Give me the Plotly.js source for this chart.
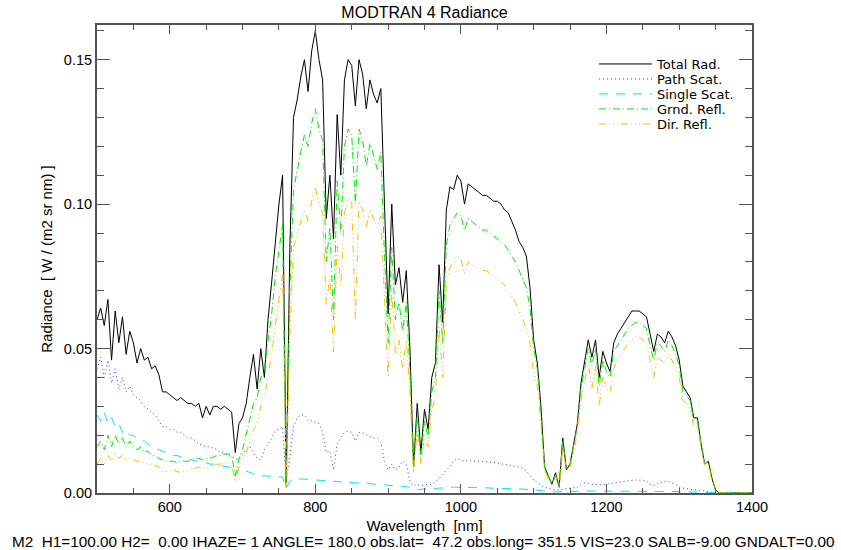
<!DOCTYPE html>
<html>
<head>
<meta charset="utf-8">
<script src="https://cdn.plot.ly/plotly-3.0.1.min.js"></script>
<style>html,body{margin:0;padding:0;background:#fff;}#chart{width:841px;height:550px;}</style>
</head>
<body>
<div id="chart"></div>
<script>
// Wavelength grid [nm]
const wavelength = [
 500,505,510,515,520,525,530,535,540,545,
 550,555,560,565,570,575,580,585,590,595,
 600,605,610,615,620,625,630,635,640,645,
 650,655,660,665,670,675,680,685,690,695,
 700,705,710,715,720,725,730,735,740,745,
 750,755,760,765,770,775,780,785,790,795,
 800,805,810,815,820,825,830,835,840,845,
 850,855,860,865,870,875,880,885,890,895,
 900,905,910,915,920,925,930,935,940,945,
 950,955,960,965,970,975,980,985,990,995,
 1000,1005,1010,1015,1020,1025,1030,1035,1040,1045,
 1050,1055,1060,1065,1070,1075,1080,1085,1090,1095,
 1100,1105,1110,1115,1120,1125,1130,1135,1140,1145,
 1150,1155,1160,1165,1170,1175,1180,1185,1190,1195,
 1200,1205,1210,1215,1220,1225,1230,1235,1240,1245,
 1250,1255,1260,1265,1270,1275,1280,1285,1290,1295,
 1300,1305,1310,1315,1320,1325,1330,1335,1340,1345,
 1350,1355,1360,1365,1370,1375,1380,1385,1390,1395,
 1400];

const totalRad = [
 0.060,0.064,0.058,0.067,0.046,0.063,0.052,0.061,0.048,0.056,
 0.052,0.045,0.050,0.046,0.047,0.043,0.044,0.041,0.035,0.035,
 0.034,0.033,0.032,0.033,0.032,0.031,0.031,0.030,0.031,0.026,
 0.030,0.027,0.030,0.030,0.029,0.030,0.029,0.028,0.014,0.024,
 0.026,0.031,0.040,0.048,0.036,0.050,0.040,0.060,0.073,0.088,
 0.100,0.110,0.003,0.085,0.130,0.136,0.144,0.150,0.139,0.153,
 0.160,0.150,0.143,0.095,0.110,0.088,0.131,0.110,0.143,0.150,
 0.148,0.134,0.150,0.145,0.133,0.143,0.138,0.135,0.140,0.100,
 0.062,0.100,0.072,0.078,0.066,0.077,0.050,0.009,0.031,0.014,
 0.029,0.022,0.040,0.045,0.079,0.059,0.098,0.106,0.105,0.110,
 0.108,0.100,0.107,0.106,0.105,0.104,0.103,0.103,0.102,0.101,
 0.101,0.100,0.098,0.097,0.094,0.091,0.087,0.085,0.082,0.071,
 0.053,0.045,0.030,0.009,0.006,0.003,0.007,0.002,0.019,0.008,
 0.010,0.017,0.024,0.038,0.046,0.053,0.047,0.053,0.040,0.049,
 0.045,0.042,0.052,0.055,0.057,0.059,0.061,0.063,0.063,0.063,
 0.062,0.061,0.055,0.049,0.055,0.054,0.052,0.056,0.054,0.051,
 0.046,0.037,0.035,0.033,0.026,0.026,0.017,0.010,0.011,0.005,
 0.001,0,0,0,0,0,0,0,0,0,
 0];

const pathScat = [
 0.043,0.047,0.040,0.046,0.038,0.043,0.036,0.040,0.035,0.037,
 0.034,0.033,0.032,0.030,0.029,0.028,0.027,0.025,0.023,0.023,
 0.022,0.022,0.021,0.021,0.020,0.019,0.019,0.018,0.017,0.0165,
 0.016,0.016,0.0155,0.015,0.014,0.014,0.013,0.0125,0.012,0.0115,
 0.0135,0.015,0.016,0.014,0.012,0.0115,0.015,0.017,0.019,0.0215,
 0.022,0.023,0.004,0.013,0.023,0.026,0.027,0.027,0.025,0.025,
 0.0245,0.024,0.021,0.014,0.0145,0.008,0.017,0.019,0.021,0.0215,
 0.021,0.018,0.021,0.0207,0.020,0.0195,0.019,0.019,0.0175,0.011,
 0.008,0.010,0.008,0.009,0.011,0.010,0.004,0.0025,0.003,0.0025,
 0.0028,0.003,0.003,0.004,0.005,0.0065,0.008,0.009,0.011,0.012,
 0.0115,0.011,0.0112,0.011,0.011,0.011,0.011,0.0108,0.0107,0.0106,
 0.0104,0.010,0.010,0.0097,0.0095,0.0092,0.009,0.0085,0.0077,0.006,
 0.0045,0.0035,0.0027,0.002,0.0017,0.0012,0.001,0.001,0.0012,0.0015,
 0.0017,0.002,0.002,0.003,0.0035,0.0033,0.003,0.003,0.0028,0.003,
 0.003,0.0033,0.0035,0.0038,0.004,0.0041,0.0042,0.0044,0.0045,0.0045,
 0.0044,0.0042,0.003,0.0025,0.0033,0.0037,0.004,0.004,0.0036,0.003,
 0.002,0.0017,0.0015,0.0012,0.001,0.001,0.0008,0.0006,0.0005,0.0003,
 0.0001,0,0,0,0,0,0,0,0,0,
 0];

const singleScat = [
 0.027,0.025,0.028,0.024,0.026,0.023,0.024,0.021,0.022,0.020,
 0.020,0.019,0.018,0.018,0.017,0.016,0.0155,0.015,0.0145,0.014,
 0.0135,0.013,0.013,0.0125,0.012,0.012,0.0115,0.011,0.011,0.0105,
 0.0105,0.010,0.010,0.0097,0.0095,0.0092,0.009,0.0088,0.006,0.0085,
 0.008,0.0075,0.007,0.0065,0.0062,0.006,0.006,0.006,0.0058,0.0057,
 0.0056,0.0055,0.0015,0.004,0.005,0.005,0.005,0.0048,0.0047,0.0046,
 0.0045,0.0044,0.0043,0.0042,0.004,0.004,0.0039,0.0038,0.0037,0.0037,
 0.0036,0.0035,0.0035,0.0034,0.0033,0.0033,0.0032,0.0031,0.003,0.003,
 0.0029,0.0027,0.0026,0.0025,0.0024,0.0022,0.002,0.0012,0.0012,0.0013,
 0.0014,0.0015,0.0016,0.0017,0.0018,0.0019,0.002,0.002,0.002,0.002,
 0.002,0.002,0.0019,0.0019,0.0019,0.0018,0.0018,0.0018,0.0017,0.0017,
 0.0016,0.0016,0.0016,0.0015,0.0015,0.0014,0.0014,0.0013,0.0013,0.0012,
 0.0012,0.001,0.0008,0.0005,0.0003,0.0003,0.0004,0.0004,0.0005,0.0005,
 0.0006,0.0006,0.0006,0.0007,0.0007,0.0007,0.0007,0.0007,0.0007,0.0007,
 0.0007,0.0007,0.0007,0.0007,0.0007,0.0006,0.0006,0.0006,0.0006,0.0006,
 0.0006,0.0006,0.0006,0.0005,0.0005,0.0005,0.0005,0.0005,0.0005,0.0005,
 0.0005,0.0004,0.0004,0.0004,0.0003,0.0003,0.0002,0.0002,0.0001,0.0001,
 0,0,0,0,0,0,0,0,0,0,
 0];

const grndRefl = [
 0.016,0.018,0.015,0.020,0.016,0.020,0.017,0.019,0.016,0.018,
 0.016,0.015,0.016,0.014,0.0145,0.013,0.013,0.012,0.0115,0.011,
 0.011,0.011,0.0105,0.011,0.011,0.011,0.0115,0.012,0.012,0.0115,
 0.012,0.012,0.0125,0.013,0.013,0.0135,0.0135,0.013,0.006,0.012,
 0.015,0.020,0.026,0.031,0.033,0.040,0.043,0.053,0.062,0.075,
 0.085,0.093,0.002,0.070,0.105,0.112,0.118,0.124,0.120,0.128,
 0.133,0.126,0.122,0.080,0.092,0.060,0.108,0.090,0.120,0.126,
 0.124,0.100,0.126,0.122,0.113,0.121,0.117,0.112,0.118,0.082,
 0.052,0.085,0.060,0.066,0.056,0.066,0.042,0.008,0.027,0.012,
 0.025,0.019,0.035,0.040,0.070,0.052,0.086,0.093,0.095,0.097,
 0.096,0.091,0.095,0.094,0.093,0.092,0.091,0.091,0.090,0.089,
 0.088,0.087,0.086,0.084,0.082,0.080,0.077,0.074,0.071,0.064,
 0.050,0.043,0.028,0.009,0.006,0.003,0.006,0.002,0.018,0.008,
 0.010,0.016,0.023,0.036,0.043,0.050,0.044,0.050,0.037,0.046,
 0.042,0.040,0.049,0.051,0.053,0.055,0.057,0.058,0.059,0.059,
 0.058,0.057,0.051,0.046,0.052,0.051,0.049,0.053,0.051,0.048,
 0.044,0.035,0.034,0.032,0.025,0.025,0.017,0.010,0.011,0.005,
 0.001,0,0,0,0,0,0,0,0,0,
 0];

const dirRefl = [
 0.010,0.012,0.010,0.013,0.011,0.014,0.012,0.013,0.011,0.012,
 0.0115,0.011,0.011,0.0105,0.010,0.010,0.0095,0.009,0.0075,0.0075,
 0.0075,0.008,0.0075,0.007,0.0075,0.008,0.0085,0.0085,0.009,0.0085,
 0.009,0.009,0.0095,0.010,0.010,0.0105,0.0105,0.010,0.004,0.009,
 0.011,0.014,0.018,0.022,0.024,0.030,0.033,0.040,0.048,0.058,
 0.068,0.076,0.002,0.055,0.085,0.090,0.094,0.098,0.094,0.101,
 0.106,0.100,0.097,0.065,0.075,0.049,0.086,0.072,0.097,0.102,
 0.101,0.060,0.101,0.098,0.092,0.098,0.095,0.092,0.096,0.068,
 0.040,0.070,0.048,0.053,0.043,0.053,0.035,0.007,0.022,0.010,
 0.020,0.016,0.029,0.033,0.058,0.040,0.072,0.078,0.080,0.082,
 0.081,0.076,0.080,0.079,0.078,0.078,0.077,0.077,0.076,0.075,
 0.074,0.073,0.072,0.070,0.068,0.066,0.063,0.060,0.057,0.052,
 0.042,0.037,0.024,0.008,0.005,0.003,0.006,0.002,0.016,0.007,
 0.009,0.014,0.021,0.032,0.038,0.045,0.036,0.044,0.030,0.040,
 0.036,0.035,0.043,0.046,0.048,0.050,0.052,0.053,0.054,0.054,
 0.053,0.052,0.046,0.040,0.047,0.046,0.045,0.048,0.046,0.043,
 0.040,0.032,0.031,0.029,0.023,0.023,0.016,0.009,0.010,0.004,
 0.001,0,0,0,0,0,0,0,0,0,
 0];

const seriesNames = ['Total Rad.', 'Path Scat.', 'Single Scat.', 'Grnd. Refl.', 'Dir. Refl.'];
const seriesValues = [totalRad, pathScat, singleScat, grndRefl, dirRefl];
const seriesColors = ['#000000', '#4a32ff', '#00e5ff', '#00ee00', '#ffbb00'];
const seriesDash = ['solid', '1px,3px', '9px,8px', '7px,3px,1px,3px', '7px,3px,1px,3px,1px,3px,1px,3px'];
const legendIds = ['legend', 'legend2', 'legend3', 'legend4', 'legend5'];
const legendRowsPx = [64, 79, 94, 109, 124];

const footer = 'M2  H1=100.00 H2=  0.00 IHAZE= 1 ANGLE= 180.0 obs.lat=  47.2 obs.long= 351.5 VIS=23.0 SALB=-9.00 GNDALT=0.00';

const FONT = 'Liberation Sans, Arial, sans-serif';
const LEGFONT = 'DejaVu Sans, sans-serif';
const plotTop = 25, plotBottom = 493, plotLeft = 97, plotRight = 752;
const toPaperY = py => (plotBottom - py) / (plotBottom - plotTop);
const toPaperX = px => (px - plotLeft) / (plotRight - plotLeft);

const traces = seriesNames.map((name, i) => ({
  type: 'scatter', mode: 'lines', name: name,
  x: wavelength, y: seriesValues[i],
  line: {color: seriesColors[i], width: 1, dash: seriesDash[i]},
  legend: legendIds[i], hoverinfo: 'x+y+name'
}));

const layout = {
  width: 841, height: 550,
  margin: {l: plotLeft, r: 841 - plotRight, t: plotTop, b: 550 - plotBottom},
  paper_bgcolor: '#ffffff', plot_bgcolor: '#ffffff',
  font: {family: FONT, color: '#000'},
  showlegend: true,
  title: {text: 'MODTRAN 4 Radiance', font: {family: FONT, size: 16, color: '#000'},
          x: 0.5, xref: 'paper', y: 1 - 12 / 550, yref: 'container', yanchor: 'middle'},
  xaxis: {
    range: [500, 1400], tickvals: [600, 800, 1000, 1200, 1400],
    ticks: 'inside', ticklen: 9, tickwidth: 1, tickcolor: '#555',
    minor: {tick0: 500, dtick: 50, ticks: 'inside', ticklen: 5, tickwidth: 1, tickcolor: '#555', showgrid: false},
    showline: true, linecolor: '#555', linewidth: 2, mirror: 'allticks',
    showgrid: false, zeroline: false,
    tickfont: {family: FONT, size: 14.5, color: '#000'},
    title: {text: 'Wavelength  [nm]', font: {family: FONT, size: 15, color: '#000'}, standoff: 6}
  },
  yaxis: {
    range: [0, 0.162], tick0: 0, dtick: 0.05, tickformat: '.2f',
    ticks: 'inside', ticklen: 13, tickwidth: 1, tickcolor: '#555',
    minor: {tick0: 0, dtick: 0.01, ticks: 'inside', ticklen: 7, tickwidth: 1, tickcolor: '#555', showgrid: false},
    showline: true, linecolor: '#555', linewidth: 2, mirror: 'allticks',
    showgrid: false, zeroline: false,
    tickfont: {family: FONT, size: 14.5, color: '#000'},
    title: {text: 'Radiance  [ W / (m2 sr nm) ]', font: {family: FONT, size: 15, color: '#000'}, standoff: 8}
  },
  annotations: [{
    text: footer, xref: 'paper', yref: 'paper',
    x: toPaperX(422.5), y: toPaperY(541), xanchor: 'center', yanchor: 'middle',
    showarrow: false, font: {family: FONT, size: 15.3, color: '#000'}
  }]
};

legendIds.forEach((id, i) => {
  layout[id] = {
    x: toPaperX(594), y: toPaperY(legendRowsPx[i]), xanchor: 'left', yanchor: 'middle',
    xref: 'paper', yref: 'paper',
    bgcolor: 'rgba(0,0,0,0)', borderwidth: 0, itemwidth: 53,
    font: {family: LEGFONT, size: 13, color: '#000'}
  };
});

Plotly.newPlot('chart', traces, layout, {staticPlot: true, displayModeBar: false});
</script>
</body>
</html>
